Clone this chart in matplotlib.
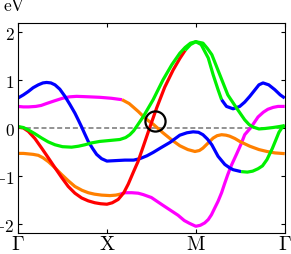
import matplotlib
matplotlib.use("Agg")
import matplotlib.pyplot as plt

plt.rcParams["mathtext.fontset"] = "cm"

# pontos de alta simetria e ticks
k_ticks = [0, 1, 2, 3]
k_labels = [r"$\Gamma$", r"$\mathrm{X}$", r"$\mathrm{M}$", r"$\Gamma$"]
e_ticks = [-2, -1, 0, 1, 2]
e_labels = [r"$-2$", r"$-1$", r"$0$", r"$1$", r"$2$"]

# bandas (k, energia em eV)
b1_x = [0.0, 0.06, 0.116, 0.19, 0.266, 0.34, 0.416, 0.49, 0.565, 0.64, 0.716, 0.79, 0.865,
        0.93, 1.0, 1.06, 1.127, 1.19, 1.24, 1.30, 1.35, 1.41, 1.48, 1.56, 1.65, 1.745, 1.82,
        1.88, 1.94, 2.0, 2.06, 2.14, 2.195, 2.25, 2.29, 2.345, 2.42, 2.494, 2.55, 2.607, 2.71,
        2.756, 2.82, 2.888, 2.95, 3.0]
b1_y = [0.02, 0.0, -0.07, -0.22, -0.42, -0.62, -0.83, -1.03, -1.22, -1.36, -1.46, -1.52, -1.56,
        -1.58, -1.59, -1.56, -1.49, -1.35, -1.17, -0.91, -0.70, -0.38, 0.0, 0.42, 0.85, 1.21, 1.45,
        1.62, 1.74, 1.80, 1.74, 1.46, 1.11, 0.80, 0.59, 0.45, 0.40, 0.45, 0.54, 0.66, 0.90,
        0.94, 0.90, 0.80, 0.69, 0.625]
b1_cores = [(1.88, "#ff0000"), (2.29, "#00f000"), (3.0, "#0000ff")]

b2_x = [0.0, 0.06, 0.116, 0.19, 0.266, 0.34, 0.416, 0.50, 0.603, 0.68, 0.753, 0.83, 0.92,
        1.034, 1.146, 1.21, 1.258, 1.30, 1.33, 1.41, 1.52, 1.63, 1.73, 1.82, 1.88, 1.94, 2.0,
        2.08, 2.13, 2.18, 2.27, 2.36, 2.457, 2.55, 2.60, 2.644, 2.71, 2.78, 2.869, 2.94, 3.0]
b2_y = [0.03, 0.01, -0.04, -0.12, -0.21, -0.29, -0.35, -0.39, -0.40, -0.38, -0.35, -0.31, -0.28,
        -0.26, -0.24, -0.20, -0.14, -0.06, 0.02, 0.24, 0.59, 1.0, 1.32, 1.56, 1.68, 1.77, 1.80,
        1.77, 1.66, 1.53, 1.11, 0.69, 0.42, 0.17, 0.07, 0.02, -0.02, -0.01, 0.01, 0.03, 0.05]
b2_cores = [(3.0, "#00f000")]

b3_x = [0.0, 0.06, 0.115, 0.17, 0.228, 0.28, 0.322, 0.37, 0.416, 0.47, 0.528, 0.584, 0.64,
        0.68, 0.716, 0.75, 0.79, 0.84, 0.884, 0.94, 1.0, 1.1, 1.202, 1.3, 1.37, 1.45, 1.52,
        1.6, 1.71, 1.82, 1.90, 1.97, 2.03, 2.08, 2.13, 2.18, 2.25, 2.326, 2.38, 2.42, 2.51,
        2.58, 2.64, 2.70, 2.75, 2.80, 2.86, 2.90, 2.935, 2.97, 3.0]
b3_y = [0.625, 0.69, 0.76, 0.84, 0.90, 0.94, 0.95, 0.94, 0.90, 0.81, 0.66, 0.49, 0.31,
        0.16, 0.02, -0.12, -0.28, -0.43, -0.55, -0.64, -0.69, -0.68, -0.67, -0.67, -0.64, -0.58, -0.51,
        -0.42, -0.30, -0.15, -0.10, -0.08, -0.09, -0.14, -0.23, -0.35, -0.59, -0.76, -0.83, -0.87, -0.91,
        -0.92, -0.90, -0.85, -0.79, -0.66, -0.43, -0.25, -0.09, 0.01, 0.05]
b3_cores = [(2.51, "#0000ff"), (3.0, "#00f000")]

b4_x = [0.0, 0.06, 0.116, 0.17, 0.228, 0.28, 0.34, 0.41, 0.49, 0.565, 0.64, 0.72, 0.79,
        0.86, 0.94, 1.034, 1.10, 1.15, 1.202, 1.28, 1.352, 1.41, 1.50, 1.62, 1.71, 1.80, 1.87,
        1.93, 2.0, 2.05, 2.10, 2.14, 2.176, 2.21, 2.25, 2.29, 2.326, 2.36, 2.40, 2.457, 2.51,
        2.55, 2.615, 2.66, 2.70, 2.76, 2.81, 2.87, 2.925, 3.0]
b4_y = [-0.53, -0.53, -0.54, -0.55, -0.57, -0.62, -0.70, -0.82, -0.97, -1.10, -1.22, -1.30, -1.35,
        -1.38, -1.40, -1.41, -1.40, -1.38, -1.35, -1.35, -1.36, -1.39, -1.45, -1.60, -1.71, -1.82, -1.93,
        -1.99, -2.05, -2.03, -1.98, -1.91, -1.81, -1.68, -1.53, -1.35, -1.15, -0.97, -0.78, -0.55, -0.33,
        -0.14, 0.0, 0.12, 0.23, 0.33, 0.39, 0.43, 0.45, 0.45]
b4_cores = [(1.15, "#ff8000"), (3.0, "#ff00ff")]

b5_x = [0.0, 0.06, 0.12, 0.2, 0.26, 0.32, 0.4, 0.5, 0.58, 0.66, 0.8, 0.92, 1.05, 1.17, 1.25,
        1.30, 1.355, 1.41, 1.46, 1.52, 1.575, 1.63, 1.73, 1.82, 1.91, 1.99, 2.04, 2.08, 2.14,
        2.195, 2.24, 2.29, 2.34, 2.38, 2.44, 2.494, 2.55, 2.607, 2.71, 2.80, 2.89, 3.0]
b5_y = [0.45, 0.44, 0.44, 0.45, 0.47, 0.51, 0.56, 0.62, 0.65, 0.66, 0.65, 0.64, 0.62, 0.59, 0.51,
        0.43, 0.34, 0.24, 0.16, 0.08, -0.01, -0.10, -0.25, -0.37, -0.45, -0.49, -0.47, -0.42, -0.31,
        -0.21, -0.16, -0.14, -0.15, -0.17, -0.22, -0.28, -0.33, -0.38, -0.45, -0.49, -0.52, -0.535]
b5_cores = [(1.17, "#ff00ff"), (3.0, "#ff8000")]

# ponto marcado com o círculo
circ_x = [1.54]
circ_y = [0.155]

bandas = [
    (b4_x, b4_y, b4_cores),
    (b5_x, b5_y, b5_cores),
    (b3_x, b3_y, b3_cores),
    (b1_x, b1_y, b1_cores),
    (b2_x, b2_y, b2_cores),
]

fig = plt.figure(figsize=(2.91, 2.55), dpi=100)
ax = fig.add_axes([0.0619, 0.0824, 0.9165, 0.8235])

ax.axhline(0, color="#808080", lw=1.2, dashes=(3, 1.7), zorder=1)

for xs, ys, cores in bandas:
    inicio = 0.0
    for fim, cor in cores:
        seg_x = [x for x in xs if inicio - 1e-9 <= x <= fim + 1e-9]
        seg_y = [y for x, y in zip(xs, ys) if inicio - 1e-9 <= x <= fim + 1e-9]
        ax.plot(seg_x, seg_y, color=cor, lw=2.3, solid_capstyle="butt",
                solid_joinstyle="round", zorder=2)
        inicio = fim

ax.plot(circ_x, circ_y, "o", ms=14.5, mfc="none", mec="black", mew=1.6, zorder=3)

ax.set_xlim(0, 3)
ax.set_ylim(-2.19, 2.19)
ax.set_xticks(k_ticks)
ax.set_xticklabels(k_labels, fontsize=14.5)
ax.set_yticks(e_ticks)
ax.set_yticklabels(e_labels, fontsize=12.5)
ax.tick_params(direction="in", top=True, right=True, length=3, width=0.8)
ax.tick_params(axis="x", pad=0.5)
ax.tick_params(axis="y", pad=2.5)
for sp in ax.spines.values():
    sp.set_linewidth(0.8)

fig.text(0.0103, 0.94, r"$\mathrm{eV}$", fontsize=12.5, ha="left", va="bottom")

fig.savefig("out.png", dpi=100)
